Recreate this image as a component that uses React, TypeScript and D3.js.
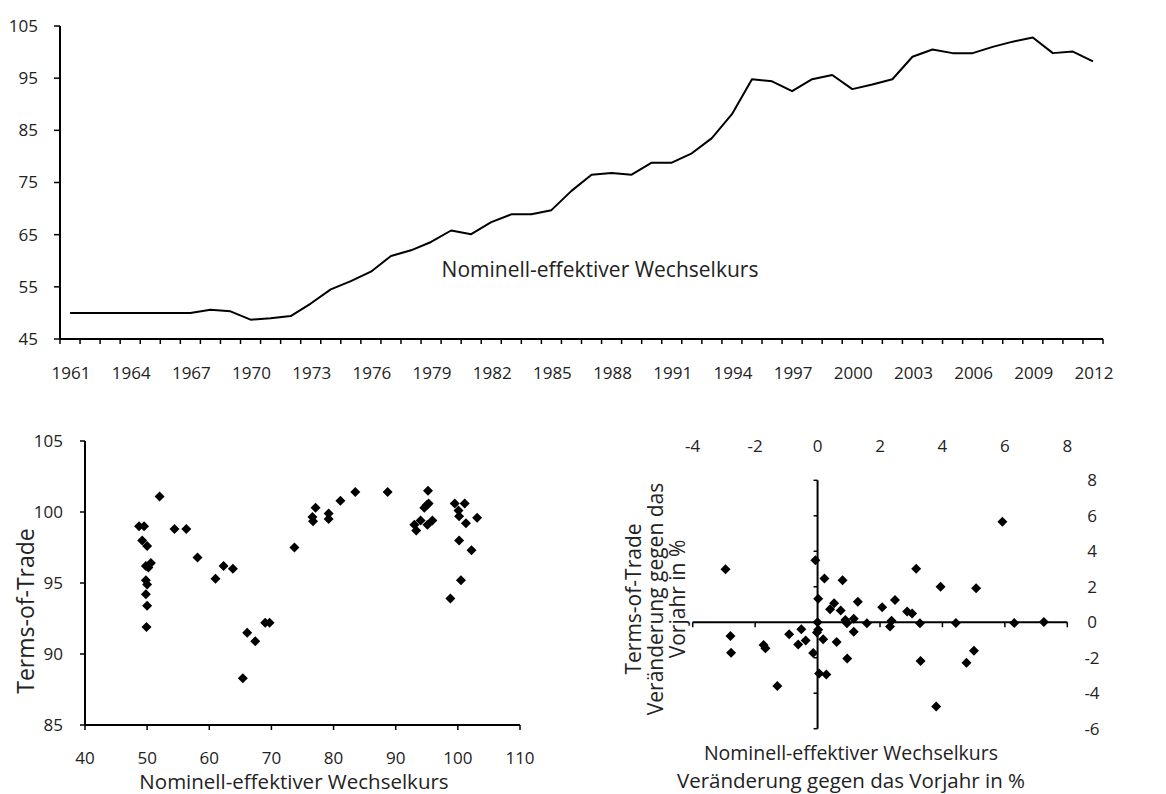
import React from "react";
import * as d3 from "d3";

const years: number[] = d3.range(1961, 2013);
const neer: number[] = [50, 50, 50, 50, 50, 50, 50, 50.6, 50.3, 48.7, 49.0, 49.4, 51.8, 54.5, 56.1, 57.9, 60.9, 62.0, 63.6, 65.8,
  65.1, 67.4, 68.9, 68.9, 69.7, 73.4, 76.5, 76.8, 76.5, 78.8, 78.8, 80.6, 83.5, 88.1, 94.8, 94.4, 92.5, 94.8, 95.6,
  92.9, 93.8, 94.8, 99.1, 100.5, 99.8, 99.8, 101.0, 102.0, 102.8, 99.8, 100.1, 98.2];
const topYTicks = [45, 55, 65, 75, 85, 95, 105];
const lineLabel = "Nominell-effektiver Wechselkurs";

const levelNeer: number[] = [48.7, 49.5, 49.2, 50.0, 52.0, 49.8, 50.6, 50.2, 49.8, 50.0, 49.8, 50.0, 49.9, 54.4, 56.3, 58.1, 61.0, 62.3, 63.8, 65.4,
  66.1, 67.4, 69.0, 69.7, 73.7, 76.6, 76.7, 77.1, 79.2, 79.2, 81.1, 83.5, 88.7, 93.0, 93.3, 94.0, 94.6, 95.0, 95.3, 95.2, 95.1, 95.9,
  98.8, 99.5, 100.1, 100.2, 100.2, 100.5, 101.1, 101.3, 102.2, 103.1];
const levelTot: number[] = [99.0, 99.0, 98.0, 97.6, 101.1, 96.2, 96.4, 96.1, 95.2, 94.9, 94.2, 93.4, 91.9, 98.8, 98.8, 96.8, 95.3, 96.2, 96.0, 88.3,
  91.5, 90.9, 92.2, 92.2, 97.5, 99.65, 99.35, 100.3, 99.9, 99.5, 100.8, 101.4, 101.4, 99.1, 98.7, 99.4, 100.3, 100.5, 100.6, 101.5, 99.1, 99.4,
  93.9, 100.6, 100.1, 99.7, 98.0, 95.2, 100.6, 99.2, 97.3, 99.6];
const levelXTicks = [40, 50, 60, 70, 80, 90, 100, 110];
const levelYTicks = [85, 90, 95, 100, 105];

const chgNeer: number[] = [-2.95, -2.79, -2.77, -1.73, -1.67, -1.29, -0.91, -0.62, -0.52, -0.38, -0.14, -0.07, 0.02, 0.0, 0.02, -0.02, 0.05, 0.28,
  0.22, 0.18, 0.40, 0.53, 0.61, 0.74, 0.80, 0.89, 0.94, 0.95, 1.16, 1.16, 1.29, 1.58, 2.07, 2.32, 2.37, 2.48, 2.87, 3.03, 3.16, 3.28, 3.30,
  3.80, 3.94, 4.43, 4.77, 5.01, 5.08, 5.92, 6.30, 7.25];
const chgTot: number[] = [2.98, -0.78, -1.72, -1.28, -1.47, -3.6, -0.68, -1.26, -0.39, -1.03, -1.73, 3.49, 1.33, 0.0, -0.42, -0.58, -2.89, -2.95,
  2.46, -0.96, 0.73, 1.07, -1.11, 0.66, 2.36, 0.13, -0.06, -2.05, 0.2, -0.53, 1.16, -0.06, 0.84, -0.24, 0.09, 1.26, 0.6, 0.49, 3.02, -0.06, -2.18,
  -4.75, 2.0, -0.04, -2.29, -1.61, 1.91, 5.67, -0.04, 0.02];
const chgXTicks = [-4, -2, 0, 2, 4, 6, 8];
const chgYTicks = [-6, -4, -2, 0, 2, 4, 6, 8];

const FONT = "'Century Gothic', 'Open Sans', sans-serif";
const TICK = 17;
const DIAMOND = "M0,-5L5,0L0,5L-5,0Z";

export default function App() {
  // Top line chart
  const xTop = d3.scaleBand<number>().domain(years).range([60, 1103]).padding(0);
  const yTop = d3.scaleLinear().domain([45, 105]).range([339, 26]);
  const line = d3.line<number>()
    .x((_, i) => (xTop(years[i]) as number) + xTop.bandwidth() / 2)
    .y((d) => yTop(d));
  const boundaries = years.map((y) => xTop(y) as number).concat([1103]);

  // Bottom-left scatter
  const xL = d3.scaleLinear().domain([40, 110]).range([85, 520]);
  const yL = d3.scaleLinear().domain([85, 105]).range([725, 441]);

  // Bottom-right scatter
  const xR = d3.scaleLinear().domain([-4, 8]).range([692.7, 1067.3]);
  const yR = d3.scaleLinear().domain([-6, 8]).range([728.7, 480.3]);

  return (
    <svg width={1166} height={794} style={{ position: "absolute", left: 0, top: 0, display: "block", background: "#fff" }}
      fontFamily={FONT} fill="#222">
      {/* Top chart */}
      <g>
        <line x1={60} x2={60} y1={yTop(105)} y2={yTop(45)} stroke="#000" strokeWidth={2} />
        {topYTicks.map((t) => (
          <g key={t}>
            <line x1={54} x2={60} y1={yTop(t)} y2={yTop(t)} stroke="#000" strokeWidth={1.5} />
            <text x={38} y={yTop(t)} dy="0.35em" textAnchor="end" fontSize={TICK}>{t}</text>
          </g>
        ))}
        <line x1={60} x2={1103} y1={yTop(45)} y2={yTop(45)} stroke="#000" strokeWidth={2} />
        {boundaries.map((b, i) => (
          <line key={i} x1={b} x2={b} y1={yTop(45)} y2={yTop(45) + 5} stroke="#000" strokeWidth={1.5} />
        ))}
        {years.filter((y) => (y - 1961) % 3 === 0).map((y) => (
          <text key={y} x={(xTop(y) as number) + xTop.bandwidth() / 2 + 1} y={379} textAnchor="middle" fontSize={TICK}>{y}</text>
        ))}
        <path d={line(neer) as string} fill="none" stroke="#000" strokeWidth={2} strokeLinejoin="round" />
        <text x={600} y={277} textAnchor="middle" fontSize={21}>{lineLabel}</text>
      </g>

      {/* Bottom-left scatter */}
      <g>
        <line x1={xL(40)} x2={xL(40)} y1={yL(105)} y2={yL(85)} stroke="#000" strokeWidth={2} />
        {levelYTicks.map((t) => (
          <g key={t}>
            <line x1={xL(40) - 5} x2={xL(40)} y1={yL(t)} y2={yL(t)} stroke="#000" strokeWidth={1.5} />
            <text x={63} y={yL(t)} dy="0.35em" textAnchor="end" fontSize={TICK}>{t}</text>
          </g>
        ))}
        <line x1={xL(40)} x2={xL(110)} y1={yL(85)} y2={yL(85)} stroke="#000" strokeWidth={2} />
        {levelXTicks.map((t) => (
          <g key={t}>
            <line x1={xL(t)} x2={xL(t)} y1={yL(85)} y2={yL(85) + 5} stroke="#000" strokeWidth={1.5} />
            <text x={xL(t)} y={764} textAnchor="middle" fontSize={TICK}>{t}</text>
          </g>
        ))}
        {levelNeer.map((v, i) => (
          <path key={i} d={DIAMOND} transform={`translate(${xL(v)},${yL(levelTot[i])})`} fill="#000" />
        ))}
        <text transform={`translate(34,611) rotate(-90)`} textAnchor="middle" fontSize={23}>Terms-of-Trade</text>
        <text x={294} y={789} textAnchor="middle" fontSize={20.5}>Nominell-effektiver Wechselkurs</text>
      </g>

      {/* Bottom-right scatter */}
      <g>
        <line x1={xR(0)} x2={xR(0)} y1={yR(8)} y2={yR(-6)} stroke="#000" strokeWidth={2} />
        {chgYTicks.map((t) => (
          <g key={t}>
            <line x1={xR(0) - 4} x2={xR(0)} y1={yR(t)} y2={yR(t)} stroke="#000" strokeWidth={1.5} />
            <text x={1092} y={yR(t)} dy="0.35em" textAnchor="middle" fontSize={TICK}>{t}</text>
          </g>
        ))}
        <line x1={xR(-4)} x2={xR(8)} y1={yR(0)} y2={yR(0)} stroke="#000" strokeWidth={2} />
        {chgXTicks.map((t) => (
          <g key={t}>
            <line x1={xR(t)} x2={xR(t)} y1={yR(0)} y2={yR(0) + 5} stroke="#000" strokeWidth={1.5} />
            <text x={xR(t)} y={452} textAnchor="middle" fontSize={TICK}>{t}</text>
          </g>
        ))}
        {chgNeer.map((v, i) => (
          <path key={i} d={DIAMOND} transform={`translate(${xR(v)},${yR(chgTot[i])})`} fill="#000" />
        ))}
        <g transform="translate(0,599)">
          <text transform="translate(641,0) rotate(-90)" textAnchor="middle" fontSize={21}>Terms-of-Trade</text>
          <text transform="translate(663,0) rotate(-90)" textAnchor="middle" fontSize={21}>Veränderung gegen das</text>
          <text transform="translate(685,0) rotate(-90)" textAnchor="middle" fontSize={21}>Vorjahr in %</text>
        </g>
        <text x={851} y={760} textAnchor="middle" fontSize={19.5}>Nominell-effektiver Wechselkurs</text>
        <text x={851} y={788} textAnchor="middle" fontSize={20.5}>Veränderung gegen das Vorjahr in %</text>
      </g>
    </svg>
  );
}
